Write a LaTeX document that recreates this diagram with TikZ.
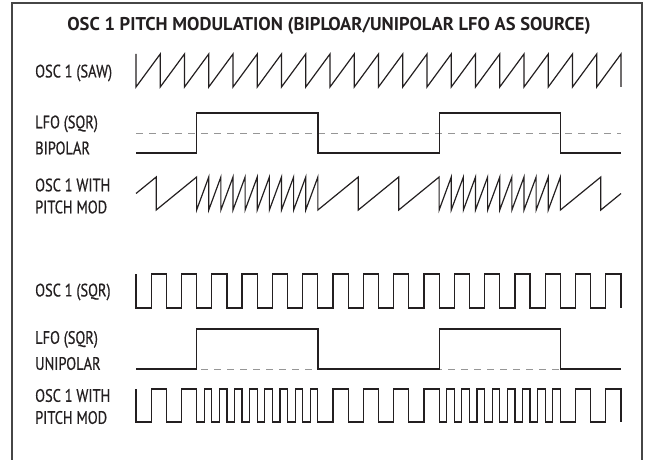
\documentclass[tikz,border=0pt]{standalone}
\usepackage{fontspec}
\usepackage{tikz}
\newfontfamily\labelfont[FakeStretch=0.8, FakeBold=0.6]{PT Sans}
\newfontfamily\headfont{PT Sans}
\definecolor{mydark}{RGB}{35,31,32}
\definecolor{mgframe}{RGB}{70,70,70}
\definecolor{mydash}{RGB}{150,150,150}
\tikzset{
  wave/.style={line width=1.2pt, color=mydark, line join=miter},
  midline/.style={line width=0.9pt, color=mydash, dash pattern=on 7pt off 6pt},
  border/.style={line width=1.3pt, color=mgframe},
  siglabel/.style={anchor=west, align=left, inner sep=0pt, color=mydark,
    font=\labelfont\fontsize{18}{22}\selectfont},
  heading/.style={inner sep=0pt, color=mydark,
    font=\headfont\bfseries\fontsize{18.5}{22}\selectfont}
}

\begin{document}
\begin{tikzpicture}[x=1pt, y=-1pt]
  \useasboundingbox (0,0) rectangle (649,460);
  % open frame (bottom edge cut off)
  \draw[border] (12,460) -- (12,3) -- (642,3) -- (642,460);
  \node[heading] (title) at (329,25.5) {OSC 1 PITCH MODULATION (BIPLOAR/UNIPOLAR LFO AS SOURCE)};

  % BIPOLAR: osc 1 saw
  \node[siglabel] (sawlbl) at (35,73) {OSC 1 (SAW)};
  \draw[wave] (136,54) \foreach \i in {1,...,20} {-- ++(0,33) -- ++(24.25,-33)} -- ++(0,33);

  % BIPOLAR: lfo square with centre line
  \node[siglabel] (lfobilbl) at (35,135) {LFO (SQR)\\[4pt]BIPOLAR};
  \draw[midline] (136,133) -- (621,133);
  \draw[wave] (136,153) -- (196.6,153) -- (196.6,113) -- (317.9,113) -- (317.9,153)
    -- (439.1,153) -- (439.1,113) -- (560.4,113) -- (560.4,153) -- (621,153);

  % BIPOLAR: saw with pitch mod (slow when low, fast when high)
  \node[siglabel] (modsawlbl) at (35,196) {OSC 1 WITH\\PITCH MOD};
  \draw[wave] (136,193.5) -- ++(20.21,-16.5)
    \foreach \i in {1} {-- ++(0,33) -- ++(40.42,-33)}
    \foreach \i in {1,...,10} {-- ++(0,33) -- ++(12.125,-33)}
    \foreach \i in {1,...,3} {-- ++(0,33) -- ++(40.42,-33)}
    \foreach \i in {1,...,10} {-- ++(0,33) -- ++(12.125,-33)}
    \foreach \i in {1} {-- ++(0,33) -- ++(40.42,-33)}
    -- ++(0,33) -- ++(20.21,-16.5);

  % UNIPOLAR: osc 1 square
  \node[siglabel] (sqrlbl) at (35,292) {OSC 1 (SQR)};
  \draw[wave] (136,274) \foreach \i in {1,...,16} {-- ++(0,34) -- ++(15.156,0) -- ++(0,-34) -- ++(15.156,0)} -- ++(0,34);

  % UNIPOLAR: lfo square sitting on the zero line
  \node[siglabel] (lfounilbl) at (35,350.5) {LFO (SQR)\\[4pt]UNIPOLAR};
  \draw[midline] (136,369) -- (621,369);
  \draw[wave] (136,369) -- (196.6,369) -- (196.6,329) -- (317.9,329) -- (317.9,369)
    -- (439.1,369) -- (439.1,329) -- (560.4,329) -- (560.4,369) -- (621,369);

  % UNIPOLAR: square with pitch mod (normal when low, double when high)
  \node[siglabel] (modsqrlbl) at (35,406.5) {OSC 1 WITH\\PITCH MOD};
  \draw[wave] (136,389)
    \foreach \i in {1,2} {-- ++(0,33) -- ++(15.156,0) -- ++(0,-33) -- ++(15.156,0)}
    \foreach \i in {1,...,8} {-- ++(0,33) -- ++(7.578,0) -- ++(0,-33) -- ++(7.578,0)}
    \foreach \i in {1,...,4} {-- ++(0,33) -- ++(15.156,0) -- ++(0,-33) -- ++(15.156,0)}
    \foreach \i in {1,...,8} {-- ++(0,33) -- ++(7.578,0) -- ++(0,-33) -- ++(7.578,0)}
    \foreach \i in {1,2} {-- ++(0,33) -- ++(15.156,0) -- ++(0,-33) -- ++(15.156,0)}
    -- ++(0,33);
\end{tikzpicture}
\end{document}
